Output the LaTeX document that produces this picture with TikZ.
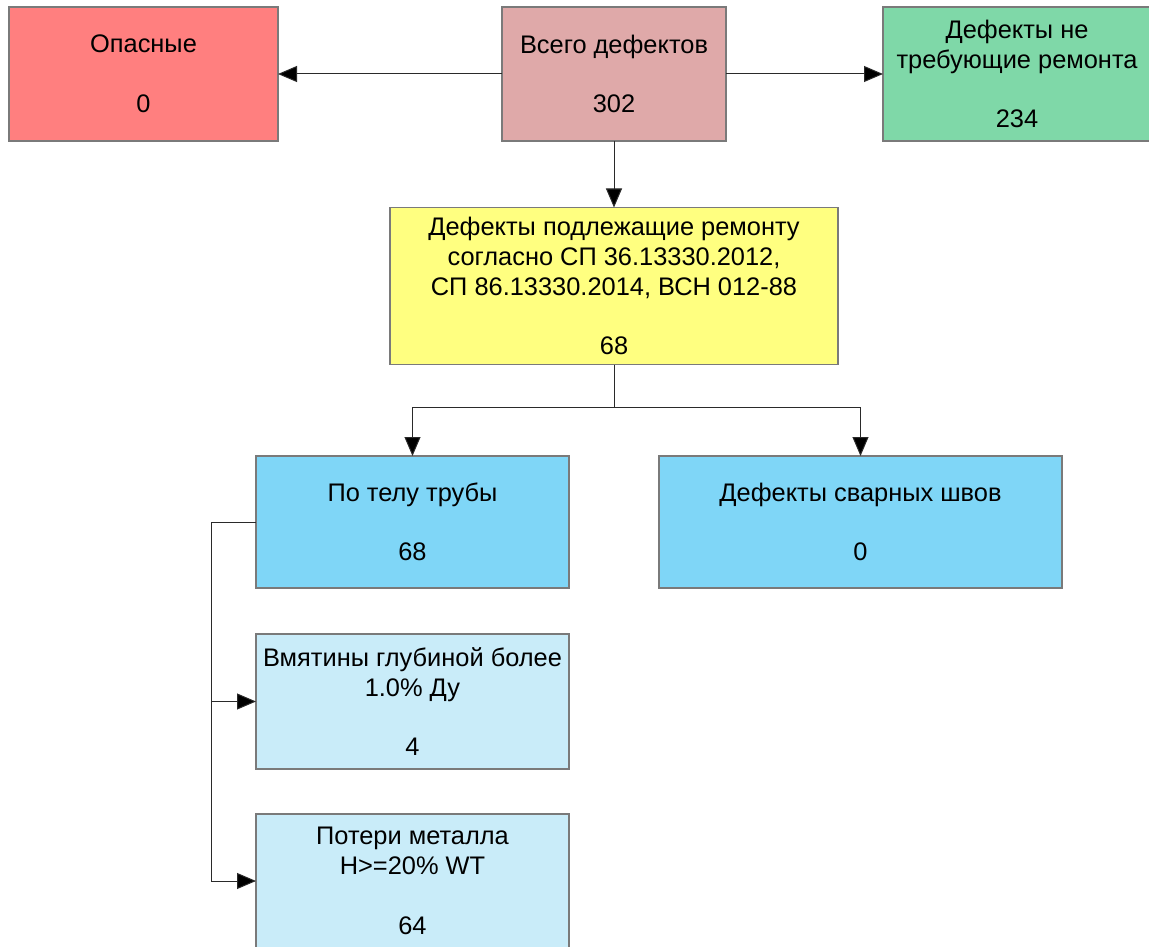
\documentclass[tikz,border=0pt]{standalone}
\usepackage{fontspec}
\setmainfont{Liberation Sans}
\usetikzlibrary{arrows.meta}
\definecolor{cRed}{HTML}{FF7F7F}
\definecolor{cPink}{HTML}{DFA9A9}
\definecolor{cGreen}{HTML}{7FD8A8}
\definecolor{cYellow}{HTML}{FFFF80}
\definecolor{cBlue}{HTML}{7FD6F7}
\definecolor{cLight}{HTML}{C9ECF9}
\definecolor{cBorder}{HTML}{7A7A7A}
\definecolor{cLine}{HTML}{2A2A2A}
\tikzset{
  box/.style={draw=cBorder, line width=1.2pt, rectangle, inner sep=0pt, outer sep=0pt,
    align=center, font=\fontsize{25.4}{29.8}\selectfont, text=black},
  conn/.style={draw=cLine, line width=1pt},
  arr/.style={conn, -{Triangle[length=19pt,width=16pt,fill=black]}},
}
\begin{document}
\begin{tikzpicture}[x=1pt,y=-1pt]
\useasboundingbox (0,0) rectangle (1149,947);
\clip (0,0) rectangle (1149,947);
\fill[white] (0,0) rectangle (1149,947);

\node[box, fill=cRed, minimum width=269pt, minimum height=134pt] (op) at (143.5,74) {Опасные\\{}\\0};
\node[box, fill=cPink, minimum width=224pt, minimum height=134pt] (vs) at (614,74) {Всего дефектов\\{}\\302};
\node[box, fill=cGreen, minimum width=268pt, minimum height=134pt] (gr) at (1017,74) {Дефекты не\\требующие ремонта\\{}\\234};
\node[box, fill=cYellow, minimum width=448pt, minimum height=157pt] (ye) at (614,286) {Дефекты подлежащие ремонту\\согласно СП 36.13330.2012,\\СП 86.13330.2014, ВСН 012-88\\{}\\68};
\node[box, fill=cBlue, minimum width=313pt, minimum height=132pt] (pt) at (412.5,522) {По телу трубы\\{}\\68};
\node[box, fill=cBlue, minimum width=403pt, minimum height=132pt] (sv) at (860.5,522) {Дефекты сварных швов\\{}\\0};
\node[box, fill=cLight, minimum width=313pt, minimum height=135pt] (vm) at (412.5,701.5) {Вмятины глубиной более\\1.0\% Ду\\{}\\4};
\node[box, fill=cLight, minimum width=313pt, minimum height=134pt] (pm) at (412.5,881) {Потери металла\\H>=20\% WT\\{}\\64};

\coordinate (jy) at (614,407);
\coordinate (jl) at (211,522);

\draw[arr] (vs.west) -- (op.east);
\draw[arr] (vs.east) -- (gr.west);
\draw[arr] (vs.south) -- (ye.north);
\draw[conn] (ye.south) -- (jy);
\draw[arr] (jy) -| (pt.north);
\draw[arr] (jy) -| (sv.north);
\draw[arr] (pt.west) -- (jl) |- (pm.west);
\draw[arr] (vm.west -| jl) -- (vm.west);
\end{tikzpicture}
\end{document}
